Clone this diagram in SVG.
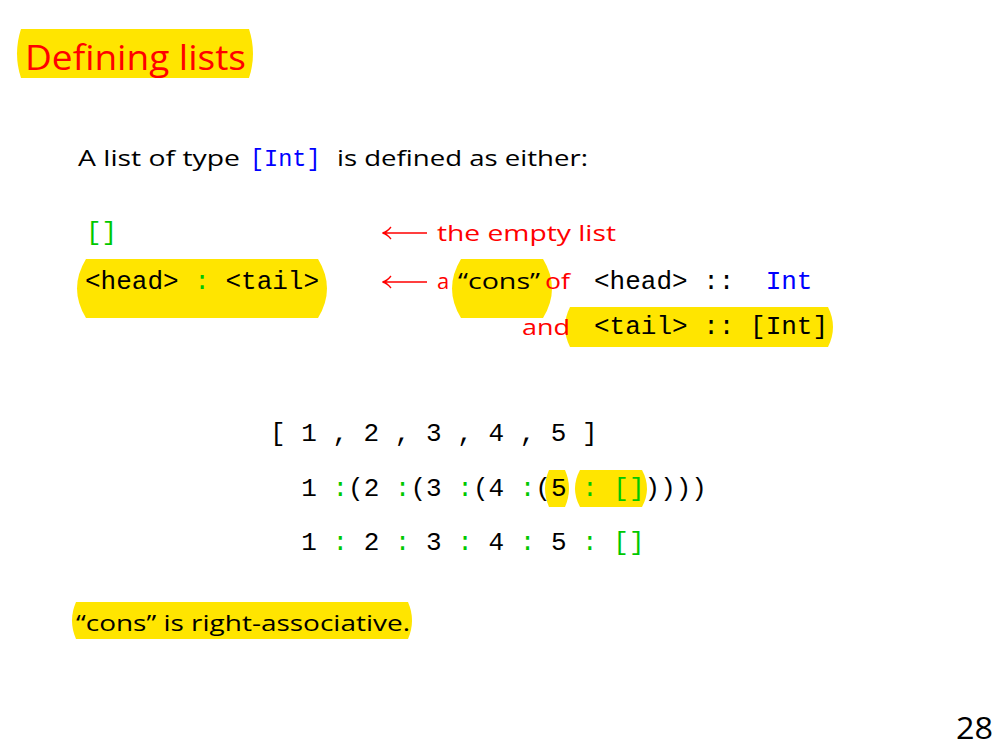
<svg xmlns="http://www.w3.org/2000/svg" width="1008" height="756" viewBox="0 0 1008 756">
<style>
.hl{fill:#FFE500;stroke:none}
.sans{font-family:"Open Sans","Noto Sans","DejaVu Sans",sans-serif}
.mono{font-family:"Liberation Mono","DejaVu Sans Mono",monospace;font-size:26px;fill:#000}
.red{fill:#FF0000}
.blk{fill:#000}
.grn{fill:#00C800}
.blu{fill:#0000FF}
.arrow{fill:none;stroke:#FF0000;stroke-width:1.3}
</style>
<rect width="1008" height="756" fill="#fff"/>
<g id="title">
<path class="hl" d="M21 29 H249 Q257 53.5 249 78 H21 Q13 53.5 21 29Z"/>
<text class="sans red" x="25" y="70" font-size="35" textLength="221" lengthAdjust="spacingAndGlyphs">Defining lists</text>
</g>
<g id="intro">
<text class="sans blk" x="78" y="166" font-size="22" textLength="162" lengthAdjust="spacingAndGlyphs">A list of type</text>
<text class="mono blu" x="250" y="166" font-size="23.5" style="font-size:23.5px">[Int]</text>
<text class="sans blk" x="337" y="166" font-size="22" textLength="251" lengthAdjust="spacingAndGlyphs">is defined as either:</text>
</g>
<g id="empty">
<text class="mono grn" x="86" y="240">[]</text>
<text class="sans red" x="437" y="241" font-size="22" textLength="179" lengthAdjust="spacingAndGlyphs">the empty list</text>
</g>
<g id="cons">
<path class="hl" d="M86 259 H318 Q336 288.5 318 318 H86 Q68 288.5 86 259Z"/>
<text class="mono" x="85" y="289" xml:space="preserve">&lt;head&gt; <tspan class="grn">:</tspan> &lt;tail&gt;</text>
<path class="hl" d="M461 259 H543 Q561 288.5 543 318 H461 Q443 288.5 461 259Z"/>
<text class="sans red" x="437" y="289" font-size="22">a</text>
<text class="sans blk" x="458" y="289" font-size="22" textLength="82" lengthAdjust="spacingAndGlyphs">“cons”</text>
<text class="sans red" x="545" y="289" font-size="22" textLength="25" lengthAdjust="spacingAndGlyphs">of</text>
<text class="mono" x="594" y="289" xml:space="preserve">&lt;head&gt; ::  <tspan class="blu">Int</tspan></text>
<path class="hl" d="M570 307 H828 Q838 327 828 347 H570 Q560 327 570 307Z"/>
<text class="sans red" x="522" y="335" font-size="22" textLength="48" lengthAdjust="spacingAndGlyphs">and</text>
<text class="mono" x="594" y="334" xml:space="preserve">&lt;tail&gt; :: [Int]</text>
</g>
<g id="arrows">
<path class="arrow" d="M383 233 H427 M391 227 Q387 232 382.5 233 Q387 234 391 239"/>
<path class="arrow" d="M383 282 H427 M391 276 Q387 281 382.5 282 Q387 283 391 288"/>
</g>
<g id="example">
<text class="mono" x="270" y="441" xml:space="preserve">[ 1 , 2 , 3 , 4 , 5 ]</text>
<path class="hl" d="M549 470 H565 Q573 488.5 565 507 H549 Q541 488.5 549 470Z"/>
<path class="hl" d="M580 470 H642 Q652 488.5 642 507 H580 Q570 488.5 580 470Z"/>
<text class="mono" x="270" y="496" xml:space="preserve">  1 <tspan class="grn">:</tspan>(2 <tspan class="grn">:</tspan>(3 <tspan class="grn">:</tspan>(4 <tspan class="grn">:</tspan>(5 <tspan class="grn">:</tspan> <tspan class="grn">[]</tspan>))))</text>
<text class="mono" x="270" y="550" xml:space="preserve">  1 <tspan class="grn">:</tspan> 2 <tspan class="grn">:</tspan> 3 <tspan class="grn">:</tspan> 4 <tspan class="grn">:</tspan> 5 <tspan class="grn">:</tspan> <tspan class="grn">[]</tspan></text>
</g>
<g id="note">
<path class="hl" d="M76 602 H408 Q416 620.5 408 639 H76 Q68 620.5 76 602Z"/>
<text class="sans blk" x="76" y="631" font-size="22" textLength="334" lengthAdjust="spacingAndGlyphs">“cons” is right-associative.</text>
</g>
<g id="page">
<text class="sans blk" x="956" y="739" font-size="31" textLength="37" lengthAdjust="spacingAndGlyphs">28</text>
</g>
</svg>
